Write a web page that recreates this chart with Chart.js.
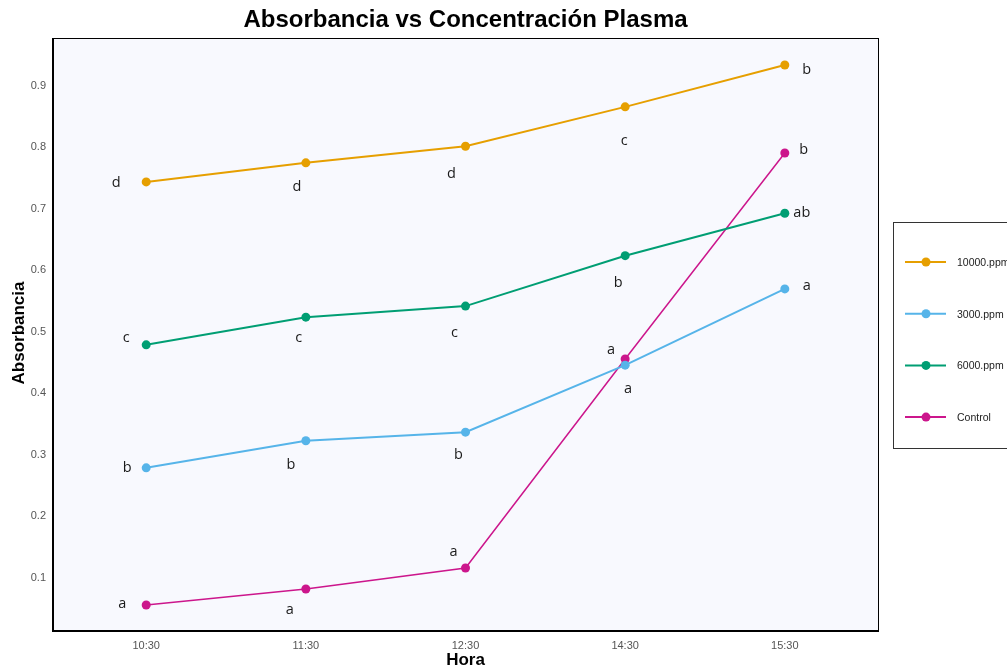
<!DOCTYPE html>
<html>
<head>
<meta charset="utf-8">
<script src="https://cdn.jsdelivr.net/npm/chart.js@4"></script>
<style>
  html, body { margin: 0; padding: 0; background: #fff; }
  #wrap { width: 1007px; height: 671px; position: relative; }
</style>
</head>
<body>
<div id="wrap"><canvas id="lineChart"></canvas></div>
<script>
// data
const horas = ["10:30", "11:30", "12:30", "14:30", "15:30"];
const yTicks = [0.1, 0.2, 0.3, 0.4, 0.5, 0.6, 0.7, 0.8, 0.9];

const ppm10000 = [0.744, 0.775, 0.802, 0.866, 0.934];
const ppm3000 = [0.279, 0.323, 0.337, 0.446, 0.570];
const ppm6000 = [0.479, 0.524, 0.542, 0.624, 0.693];
const control = [0.056, 0.082, 0.116, 0.456, 0.791];

const letras10000 = ["d", "d", "d", "c", "b"];
const letras3000 = ["b", "b", "b", "a", "a"];
const letras6000 = ["c", "c", "c", "b", "ab"];
const letrasControl = ["a", "a", "a", "a", "b"];

// where each letter sits relative to its point (px)
const off10000 = [[-30, 1], [-9, 24], [-14, 28], [-1, 34], [22, 5]];
const off3000 = [[-19, 0], [-15, 24], [-7, 23], [3, 24], [22, -3]];
const off6000 = [[-20, -7], [-7, 21], [-11, 27], [-7, 27], [17, 0]];
const offControl = [[-24, -1], [-16, 21], [-12, -16], [-14, -9], [19, -3]];

const toPoints = arr => arr.map((v, i) => ({x: i, y: v}));

let ready = (callback) => {
    if (document.readyState != "loading") callback();
    else document.addEventListener("DOMContentLoaded", callback);
}

const panelPlugin = {
    id: "panel",
    beforeDatasetsDraw(chart) {
        const {ctx, chartArea: a} = chart;
        ctx.save();
        ctx.fillStyle = "#F8F9FE";
        ctx.fillRect(a.left, a.top, a.right - a.left, a.bottom - a.top);
        ctx.restore();
    },
    afterDraw(chart) {
        const {ctx, chartArea: a} = chart;
        ctx.save();
        ctx.strokeStyle = "#000";
        ctx.lineWidth = 1;
        ctx.strokeRect(a.left + 0.5, a.top + 0.5, a.right - a.left - 1, a.bottom - a.top - 1);
        ctx.lineWidth = 2;
        ctx.beginPath();
        ctx.moveTo(a.left + 1, a.top);
        ctx.lineTo(a.left + 1, a.bottom - 1);
        ctx.lineTo(a.right, a.bottom - 1);
        ctx.stroke();

        // title and axis titles
        const cx = (a.left + a.right) / 2;
        ctx.fillStyle = "#000";
        ctx.textAlign = "center";
        ctx.textBaseline = "middle";
        ctx.font = "bold 24px 'Liberation Sans', Arial, sans-serif";
        ctx.fillText("Absorbancia vs Concentración Plasma", cx, 20);
        ctx.font = "bold 17px 'Liberation Sans', Arial, sans-serif";
        ctx.fillText("Hora", cx, 660);
        ctx.translate(19, 333);
        ctx.rotate(-Math.PI / 2);
        ctx.fillText("Absorbancia", 0, 0);
        ctx.restore();

        // letters next to points
        ctx.save();
        ctx.font = "14.5px 'Open Sans', 'DejaVu Sans', sans-serif";
        ctx.fillStyle = "#1a1a1a";
        ctx.textAlign = "center";
        ctx.textBaseline = "middle";
        chart.data.datasets.forEach((ds, di) => {
            const meta = chart.getDatasetMeta(di);
            meta.data.forEach((pt, i) => {
                const o = ds.offsets[i];
                ctx.fillText(ds.letters[i], pt.x + o[0], pt.y + o[1]);
            });
        });
        ctx.restore();

        // legend box
        ctx.save();
        ctx.strokeStyle = "#333";
        ctx.lineWidth = 1;
        ctx.strokeRect(893.5, 222.5, 130, 226);
        ctx.font = "10.5px 'Liberation Sans', Arial, sans-serif";
        ctx.textAlign = "left";
        ctx.textBaseline = "middle";
        chart.data.datasets.forEach((ds, di) => {
            const y = 262 + di * 51.7;
            ctx.strokeStyle = ds.borderColor;
            ctx.lineWidth = 2;
            ctx.beginPath();
            ctx.moveTo(905, y);
            ctx.lineTo(946, y);
            ctx.stroke();
            ctx.fillStyle = ds.borderColor;
            ctx.beginPath();
            ctx.arc(926, y, 4.5, 0, Math.PI * 2);
            ctx.fill();
            ctx.fillStyle = "#222";
            ctx.fillText(ds.label, 957, y + 1);
        });
        ctx.restore();
    }
};

ready(() => {
    var ctx = document.getElementById("lineChart").getContext("2d");
    const mk = (label, data, color, letters, offsets, width) => ({
        label: label,
        data: toPoints(data),
        borderColor: color,
        backgroundColor: color,
        borderWidth: width,
        pointRadius: 4.5,
        pointHoverRadius: 4.5,
        pointBorderWidth: 0,
        letters: letters,
        offsets: offsets
    });
    new Chart(ctx, {
        type: "line",
        data: {
            datasets: [
                mk("10000.ppm", ppm10000, "#E69F00", letras10000, off10000, 2),
                mk("3000.ppm", ppm3000, "#56B4E9", letras3000, off3000, 2),
                mk("6000.ppm", ppm6000, "#009E73", letras6000, off6000, 2),
                mk("Control", control, "#CC168C", letrasControl, offControl, 1.5)
            ]
        },
        options: {
            responsive: true,
            maintainAspectRatio: false,
            animation: false,
            layout: {padding: {top: 38, right: 128, left: 0, bottom: 0}},
            plugins: {
                legend: {display: false},
                title: {display: false},
                tooltip: {enabled: false}
            },
            scales: {
                x: {
                    type: "linear",
                    min: -0.59,
                    max: 4.59,
                    grid: {display: false, drawTicks: false},
                    border: {display: false},
                    afterBuildTicks: s => { s.ticks = horas.map((h, i) => ({value: i})); },
                    afterFit: s => { s.height = 39; },
                    ticks: {
                        padding: 7,
                        color: "#555",
                        font: {size: 11, family: "'Liberation Sans', Arial, sans-serif"},
                        callback: v => horas[v],
                        maxRotation: 0
                    }
                },
                y: {
                    min: 0.012,
                    max: 0.978,
                    grid: {display: false, drawTicks: false},
                    border: {display: false},
                    afterBuildTicks: s => { s.ticks = yTicks.map(v => ({value: v})); },
                    afterFit: s => { s.width = 52; },
                    ticks: {
                        padding: 6,
                        color: "#555",
                        font: {size: 11, family: "'Liberation Sans', Arial, sans-serif"},
                        callback: v => v.toFixed(1)
                    }
                }
            }
        },
        plugins: [panelPlugin]
    });
});
</script>
</body>
</html>
